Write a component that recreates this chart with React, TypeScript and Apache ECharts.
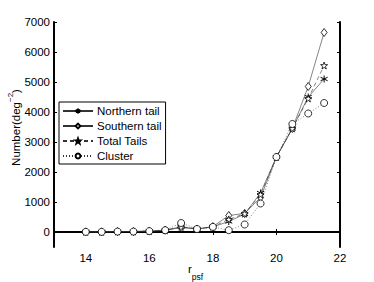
import React, { useEffect, useRef } from "react";
import * as echarts from "echarts";

const rpsf = [14, 14.5, 15, 15.5, 16, 16.5, 17, 17.5, 18, 18.5, 19, 19.5, 20, 20.5, 21, 21.5];
const northern = [5, 5, 15, 15, 30, 50, 180, 100, 170, 350, 600, 1300, 2500, 3450, 4500, 5100];
const southern = [5, 5, 15, 15, 30, 60, 150, 100, 180, 550, 620, 1150, 2500, 3450, 4850, 6650];
const totalTails = [5, 5, 15, 15, 30, 55, 170, 100, 175, 420, 610, 1250, 2500, 3450, 4450, 5550];
const cluster = [5, 5, 15, 15, 30, 60, 300, 100, 170, 60, 250, 950, 2500, 3600, 3950, 4300];

const xTicks = [14, 16, 18, 20, 22];
const yTicks = [0, 1000, 2000, 3000, 4000, 5000, 6000, 7000];
const seriesNames = ["Northern tail", "Southern tail", "Total Tails", "Cluster"];

const FONT = "'Liberation Sans', Arial, Helvetica, sans-serif";

const ASTERISK = "path://M5,0L5,10M0.67,2.5L9.33,7.5M0.67,7.5L9.33,2.5";
const STAR =
  "path://M5,0L6.176,3.382L9.755,3.455L6.902,5.618L7.939,9.045L5,7L2.061,9.045L3.098,5.618L0.245,3.455L3.824,3.382Z";

function pairs(ys: number[]) {
  return rpsf.map((x, i) => [x, ys[i]]);
}

export default function App() {
  const ref = useRef<HTMLDivElement>(null);
  useEffect(() => {
    if (!ref.current) return;
    const chart = echarts.init(ref.current, undefined, { renderer: "svg" });
    const axisLine = { show: true, lineStyle: { color: "#000", width: 2 } };
    const tickStyle = { color: "#000", width: 1 };
    const lineCol = "#333";
    chart.setOption({
      animation: false,
      backgroundColor: "#fff",
      textStyle: { fontFamily: FONT },
      grid: { left: 54, right: 34, top: 22, bottom: 35, containLabel: false, outerBoundsMode: "none" },
      legend: {
        orient: "vertical",
        left: 59,
        top: 102,
        data: seriesNames,
        backgroundColor: "#fff",
        borderColor: "#000",
        borderWidth: 1,
        borderRadius: 0,
        padding: [3, 4, 2, 3],
        itemWidth: 30,
        itemHeight: 6,
        itemGap: 3,
        textStyle: { fontFamily: FONT, fontSize: 11.5, color: "#000", padding: [0, 0, 0, -1] },
      },
      xAxis: [
        {
          type: "value",
          min: 13,
          max: 22,
          position: "bottom",
          axisLine,
          splitLine: { show: false },
          axisTick: { show: true, inside: true, length: 3, lineStyle: tickStyle, customValues: xTicks },
          axisLabel: {
            color: "#000",
            fontSize: 11.5,
            fontFamily: FONT,
            margin: 5,
            customValues: xTicks,
            formatter: (v: number) => String(v),
          },
        },
        {
          type: "value",
          min: 13,
          max: 22,
          position: "top",
          axisLine,
          splitLine: { show: false },
          axisTick: { show: true, inside: true, length: 3, lineStyle: tickStyle, customValues: xTicks },
          axisLabel: { show: false },
        },
      ],
      yAxis: [
        {
          type: "value",
          min: -500,
          max: 7000,
          position: "left",
          name: "{a|Number(deg}{s|−2}{a|)}",
          nameLocation: "middle",
          nameRotate: 90,
          nameGap: 32,
          nameMoveOverlap: false,
          nameTextStyle: {
            color: "#000",
            fontFamily: FONT,
            fontSize: 11.5,
            padding: [0, 0, 0, 14],
            rich: {
              a: { fontFamily: FONT, fontSize: 11.5, lineHeight: 16, verticalAlign: "bottom", color: "#000" },
              s: { fontFamily: FONT, fontSize: 8, verticalAlign: "top", color: "#000" },
            },
          },
          axisLine,
          splitLine: { show: false },
          axisTick: { show: true, inside: true, length: 3, lineStyle: tickStyle, customValues: yTicks },
          axisLabel: {
            color: "#000",
            fontSize: 11.5,
            fontFamily: FONT,
            margin: 4,
            customValues: yTicks,
            formatter: (v: number) => String(v),
          },
        },
        {
          type: "value",
          min: -500,
          max: 7000,
          position: "right",
          axisLine,
          splitLine: { show: false },
          axisTick: { show: true, inside: true, length: 3, lineStyle: tickStyle, customValues: yTicks },
          axisLabel: { show: false },
        },
      ],
      graphic: [
        {
          type: "text",
          x: 188,
          y: 263,
          style: {
            text: "{a|r}{b|psf}",
            align: "left",
            verticalAlign: "top",
            fill: "#000",
            rich: {
              a: { fontFamily: FONT, fontSize: 11.5, lineHeight: 18, verticalAlign: "top", fill: "#000" },
              b: { fontFamily: FONT, fontSize: 8.5, verticalAlign: "bottom", fill: "#000" },
            },
          },
        },
      ],
      series: [
        {
          name: seriesNames[0],
          type: "line",
          data: pairs(northern),
          symbol: ASTERISK,
          symbolSize: 7,
          lineStyle: { color: lineCol, width: 0.6, type: "solid" },
          itemStyle: { color: "#000", borderColor: "#000", borderWidth: 1 },
        },
        {
          name: seriesNames[1],
          type: "line",
          data: pairs(southern),
          symbol: "diamond",
          symbolSize: [6, 8],
          lineStyle: { color: lineCol, width: 0.6, type: "solid" },
          itemStyle: { color: "#fff", borderColor: "#000", borderWidth: 0.8 },
        },
        {
          name: seriesNames[2],
          type: "line",
          data: pairs(totalTails),
          symbol: STAR,
          symbolSize: 7,
          lineStyle: { color: lineCol, width: 0.6, type: [4, 3] },
          itemStyle: { color: "#fff", borderColor: "#000", borderWidth: 0.8 },
        },
        {
          name: seriesNames[3],
          type: "line",
          data: pairs(cluster),
          symbol: "circle",
          symbolSize: 7,
          lineStyle: { color: lineCol, width: 0.6, type: [1, 2] },
          itemStyle: { color: "#fff", borderColor: "#000", borderWidth: 0.8 },
        },
      ],
    });
    return () => chart.dispose();
  }, []);
  return (
    <div
      ref={ref}
      style={{ position: "fixed", left: 0, top: 0, width: 374, height: 282, background: "#fff" }}
    />
  );
}
